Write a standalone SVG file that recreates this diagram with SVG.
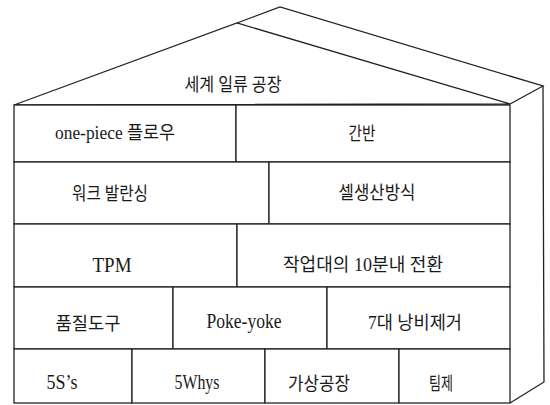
<svg xmlns="http://www.w3.org/2000/svg" width="550" height="405" viewBox="0 0 550 405">
<style>
  .ln { fill: none; stroke: #222; stroke-width: 1.3; stroke-linejoin: miter; }
  .cell { fill: #fff; stroke: #222; stroke-width: 1.3; }
  .t { font-family: "Liberation Serif", "Noto Sans CJK KR", serif; font-size: 18px; fill: #1a1a1a; text-anchor: middle; }
  .lat { font-size: 20px; }
</style>
<rect width="550" height="405" fill="#fff"/>
<g id="roof">
  <polygon class="ln" points="14,105 237,23 510,104"/>
  <polyline class="ln" points="237,23 280,7 543,86 510,104"/>
  <text class="t" x="233" y="91" textLength="97" lengthAdjust="spacingAndGlyphs">세계 일류 공장</text>
</g>
<g id="side-wall">
  <polyline class="ln" points="543,86 544,382 510,403"/>
</g>
<g id="one-piece-flow">
  <rect class="cell" x="14" y="105" width="222" height="57"/>
  <text class="t" x="115" y="139" textLength="120" lengthAdjust="spacingAndGlyphs">one-piece 플로우</text>
</g>
<g id="kanban">
  <rect class="cell" x="236" y="105" width="274" height="57"/>
  <text class="t" x="362" y="140" textLength="27" lengthAdjust="spacingAndGlyphs">간반</text>
</g>
<g id="work-balancing">
  <rect class="cell" x="14" y="162" width="255" height="62"/>
  <text class="t" x="110" y="200" textLength="76" lengthAdjust="spacingAndGlyphs">워크 발란싱</text>
</g>
<g id="cell-production">
  <rect class="cell" x="269" y="162" width="241" height="62"/>
  <text class="t" x="377" y="199" textLength="77" lengthAdjust="spacingAndGlyphs">셀생산방식</text>
</g>
<g id="tpm">
  <rect class="cell" x="14" y="224" width="223" height="63"/>
  <text class="t lat" x="112" y="272" textLength="39" lengthAdjust="spacingAndGlyphs">TPM</text>
</g>
<g id="changeover">
  <rect class="cell" x="237" y="224" width="273" height="63"/>
  <text class="t" x="363" y="271" textLength="160" lengthAdjust="spacingAndGlyphs">작업대의 10분내 전환</text>
</g>
<g id="quality-tools">
  <rect class="cell" x="14" y="287" width="159" height="62"/>
  <text class="t" x="88" y="330" textLength="65" lengthAdjust="spacingAndGlyphs">품질도구</text>
</g>
<g id="poke-yoke">
  <rect class="cell" x="173" y="287" width="154" height="62"/>
  <text class="t lat" x="244" y="328" textLength="75" lengthAdjust="spacingAndGlyphs">Poke-yoke</text>
</g>
<g id="seven-wastes">
  <rect class="cell" x="327" y="287" width="183" height="62"/>
  <text class="t" x="415" y="329" textLength="94" lengthAdjust="spacingAndGlyphs">7대 낭비제거</text>
</g>
<g id="five-s">
  <rect class="cell" x="14" y="349" width="118" height="54"/>
  <text class="t lat" x="62" y="389" textLength="31" lengthAdjust="spacingAndGlyphs">5S’s</text>
</g>
<g id="five-whys">
  <rect class="cell" x="132" y="349" width="133" height="54"/>
  <text class="t lat" x="197" y="389" textLength="45" lengthAdjust="spacingAndGlyphs">5Whys</text>
</g>
<g id="virtual-factory">
  <rect class="cell" x="265" y="349" width="134" height="54"/>
  <text class="t" x="319" y="390" textLength="62" lengthAdjust="spacingAndGlyphs">가상공장</text>
</g>
<g id="team-system">
  <rect class="cell" x="399" y="349" width="111" height="54"/>
  <text class="t" x="441" y="390" textLength="24" lengthAdjust="spacingAndGlyphs">팀제</text>
</g>
</svg>
